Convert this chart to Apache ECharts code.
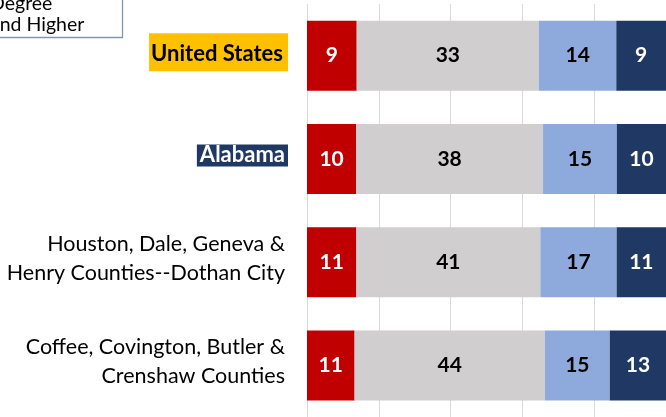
<!DOCTYPE html>
<html>
<head>
<meta charset="utf-8">
<script src="https://cdn.jsdelivr.net/npm/echarts@6/dist/echarts.min.js"></script>
<style>
  html, body { margin: 0; padding: 0; background: #fff; }
  #chart { width: 666px; height: 417px; }
</style>
</head>
<body>
<div id="chart"></div>
<script>
// Educational attainment by area; each bar is scaled to its own row total
const categories = [
  'United States',
  'Alabama',
  'Houston, Dale, Geneva &\nHenry Counties--Dothan City',
  'Coffee, Covington, Butler &\nCrenshaw Counties'
];
const seriesNames = [
  'Less than High School',
  'High School Graduate',
  "Some College or Associate's",
  "Bachelor's\nDegree\nand Higher"
];
const lessThanHS   = [9, 10, 11, 11];
const hsGraduate   = [33, 38, 41, 44];
const someCollege  = [14, 15, 17, 15];
const bachelorsUp  = [9, 10, 11, 13];
const xTicks = [0, 20, 40, 60, 80, 100];

const rawSeries = [lessThanHS, hsGraduate, someCollege, bachelorsUp];
const colors = ['#C00000', '#D0CECE', '#8EA9DB', '#1F3864'];
const labelColors = ['#ffffff', '#000000', '#000000', '#ffffff'];

const rowTotals = categories.map((_, i) => rawSeries.reduce((s, arr) => s + arr[i], 0));

const FONT = 'Lato';

const chart = echarts.init(document.getElementById('chart'), null, { renderer: 'canvas' });

chart.setOption({
  animation: false,
  backgroundColor: '#ffffff',
  textStyle: { fontFamily: FONT },
  grid: { left: 307, top: 4, width: 365, height: 414, containLabel: false },
  xAxis: {
    type: 'value',
    min: xTicks[0],
    max: xTicks[xTicks.length - 1],
    interval: xTicks[1] - xTicks[0],
    axisLabel: { show: false },
    axisLine: { show: false },
    axisTick: { show: false },
    splitLine: { show: true, lineStyle: { color: '#D9D9D9', width: 1 } }
  },
  yAxis: {
    type: 'category',
    inverse: true,
    data: categories,
    axisLine: { show: false },
    axisTick: { show: false },
    axisLabel: {
      margin: 19,
      padding: [0, 0, 7, 0],
      fontFamily: FONT,
      formatter: (v, i) => {
        if (i === 0) return '{us|' + v + '}';
        if (i === 1) return '{al|' + v + '}';
        return '{plain|' + v + '}';
      },
      rich: {
        us: {
          fontFamily: FONT, fontSize: 22, fontWeight: 'bold', color: '#000000',
          backgroundColor: '#FFC000', padding: [10, 5, 6, 2], lineHeight: 21
        },
        al: {
          fontFamily: FONT, fontSize: 22, fontWeight: 'bold', color: '#ffffff',
          backgroundColor: '#1F3864', padding: [0, 3, 0, 3], lineHeight: 21
        },
        plain: {
          fontFamily: FONT, fontSize: 21.5, color: '#000000', lineHeight: 29, padding: [0, 3, 0, 0]
        }
      }
    }
  },
  graphic: [
    {
      type: 'group',
      children: [
        {
          type: 'rect',
          shape: { x: -120, y: -80, width: 242.5, height: 117.5 },
          style: { fill: '#ffffff', stroke: '#8496B0', lineWidth: 1.3 }
        },
        {
          type: 'text',
          x: -10, y: 35,
          style: {
            text: seriesNames[3],
            font: '19.5px ' + FONT,
            fill: '#000000',
            textAlign: 'left',
            textVerticalAlign: 'bottom',
            lineHeight: 21
          }
        }
      ]
    }
  ],
  series: rawSeries.map((arr, s) => ({
    name: seriesNames[s],
    type: 'bar',
    stack: 'total',
    barWidth: 70,
    itemStyle: { color: colors[s] },
    label: {
      show: true,
      position: 'inside',
      fontFamily: FONT,
      fontSize: 21,
      fontWeight: 'bold',
      color: labelColors[s],
      formatter: p => String(arr[p.dataIndex])
    },
    data: arr.map((v, i) => v / rowTotals[i] * 100)
  }))
});
</script>
</body>
</html>
